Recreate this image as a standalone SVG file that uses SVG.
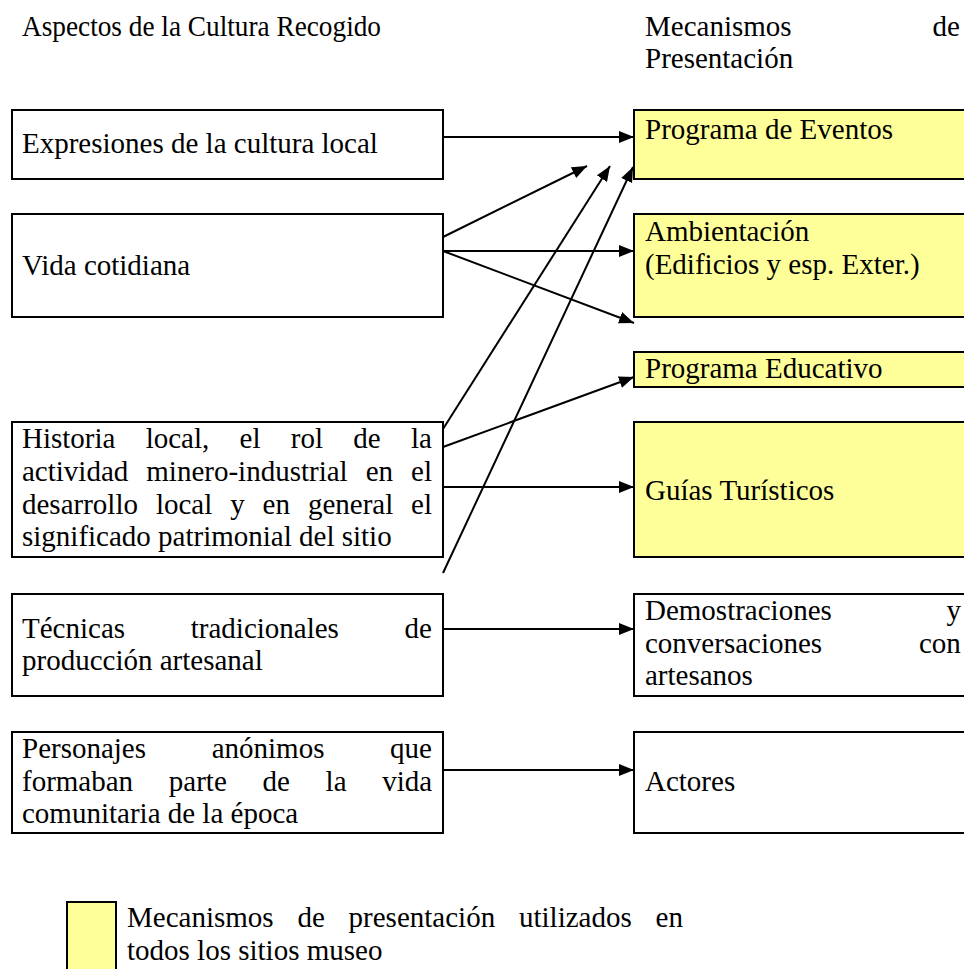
<svg xmlns="http://www.w3.org/2000/svg" width="964" height="969" viewBox="0 0 964 969">
<style>
  text { font-family: "Liberation Serif", "Times New Roman", serif; font-size: 29px; fill: #000; }
  .box { fill: #fff; stroke: #000; stroke-width: 2; }
  .ybox { fill: #ffff99; stroke: #000; stroke-width: 2; }
  .conn { stroke: #000; stroke-width: 2; fill: none; marker-end: url(#arr); }
</style>
<defs>
  <marker id="arr" viewBox="0 0 15 12" markerUnits="userSpaceOnUse" markerWidth="15" markerHeight="12" refX="15" refY="6" orient="auto">
    <path d="M0,0 L15,6 L0,12 z" fill="#000"/>
  </marker>
</defs>
<rect width="964" height="969" fill="#fff"/>

<g id="headers">
  <text x="22" y="36" textLength="359" lengthAdjust="spacingAndGlyphs">Aspectos de la Cultura Recogido</text>
  <text y="36"><tspan x="645">Mecanismos</tspan><tspan x="932.6">de</tspan></text>
  <text x="645" y="68">Presentación</text>
</g>

<g id="n-expresiones">
  <rect class="box" x="12" y="110" width="431" height="69"/>
  <text x="22" y="153">Expresiones de la cultura local</text>
</g>
<g id="n-vida">
  <rect class="box" x="12" y="214" width="431" height="103"/>
  <text x="22" y="275">Vida cotidiana</text>
</g>
<g id="n-historia">
  <rect class="box" x="12" y="422" width="431" height="135"/>
  <text y="448"><tspan x="22">Historia</tspan><tspan x="145.7">local,</tspan><tspan x="239.6">el</tspan><tspan x="290.8">rol</tspan><tspan x="353.3">de</tspan><tspan x="411">la</tspan></text>
  <text y="481"><tspan x="22">actividad</tspan><tspan x="146.3">minero-industrial</tspan><tspan x="365.7">en</tspan><tspan x="411.1">el</tspan></text>
  <text y="513.5"><tspan x="22">desarrollo</tspan><tspan x="155.9">local</tspan><tspan x="230.2">y</tspan><tspan x="262.6">en</tspan><tspan x="307.9">general</tspan><tspan x="411.1">el</tspan></text>
  <text x="22" y="546">significado patrimonial del sitio</text>
</g>
<g id="n-tecnicas">
  <rect class="box" x="12" y="594" width="431" height="102"/>
  <text y="638"><tspan x="22">Técnicas</tspan><tspan x="190.75">tradicionales</tspan><tspan x="404.6">de</tspan></text>
  <text x="22" y="670">producción artesanal</text>
</g>
<g id="n-personajes">
  <rect class="box" x="12" y="732" width="431" height="101"/>
  <text y="758"><tspan x="22">Personajes</tspan><tspan x="211.65">anónimos</tspan><tspan x="390.1">que</tspan></text>
  <text y="790.5"><tspan x="22">formaban</tspan><tspan x="168.8">parte</tspan><tspan x="262.5">de</tspan><tspan x="325.6">la</tspan><tspan x="382.2">vida</tspan></text>
  <text x="22" y="823">comunitaria de la época</text>
</g>

<g id="n-eventos">
  <rect class="ybox" x="634" y="110" width="400" height="69"/>
  <text x="645" y="139">Programa de Eventos</text>
</g>
<g id="n-ambientacion">
  <rect class="ybox" x="634" y="214" width="400" height="103"/>
  <text x="645" y="241">Ambientación</text>
  <text x="645" y="274">(Edificios y esp. Exter.)</text>
</g>
<g id="n-educativo">
  <rect class="ybox" x="634" y="352" width="400" height="35"/>
  <text x="645" y="378">Programa Educativo</text>
</g>
<g id="n-guias">
  <rect class="ybox" x="634" y="422" width="400" height="135"/>
  <text x="645" y="500">Guías Turísticos</text>
</g>
<g id="n-demostraciones">
  <rect class="box" x="634" y="594" width="400" height="102"/>
  <text y="620"><tspan x="645">Demostraciones</tspan><tspan x="946.5">y</tspan></text>
  <text y="652.5"><tspan x="645">conversaciones</tspan><tspan x="919">con</tspan></text>
  <text x="645" y="685">artesanos</text>
</g>
<g id="n-actores">
  <rect class="box" x="634" y="732" width="400" height="101"/>
  <text x="645" y="791">Actores</text>
</g>

<g id="connectors">
  <line class="conn" x1="443" y1="137" x2="634" y2="137"/>
  <line class="conn" x1="443" y1="237" x2="587" y2="166"/>
  <line class="conn" x1="443" y1="251" x2="634" y2="251"/>
  <line class="conn" x1="443" y1="251" x2="634" y2="323"/>
  <line class="conn" x1="443" y1="429" x2="610" y2="166"/>
  <line class="conn" x1="443" y1="447" x2="634" y2="377"/>
  <line class="conn" x1="443" y1="487" x2="634" y2="487"/>
  <line class="conn" x1="443" y1="573" x2="633" y2="167"/>
  <line class="conn" x1="443" y1="629" x2="634" y2="629"/>
  <line class="conn" x1="443" y1="770" x2="634" y2="770"/>
</g>

<g id="legend">
  <rect class="ybox" x="67" y="902" width="49" height="80"/>
  <text y="927"><tspan x="127">Mecanismos</tspan><tspan x="297.4">de</tspan><tspan x="348.6">presentación</tspan><tspan x="519">utilizados</tspan><tspan x="655.6">en</tspan></text>
  <text x="127" y="960">todos los sitios museo</text>
</g>
</svg>
